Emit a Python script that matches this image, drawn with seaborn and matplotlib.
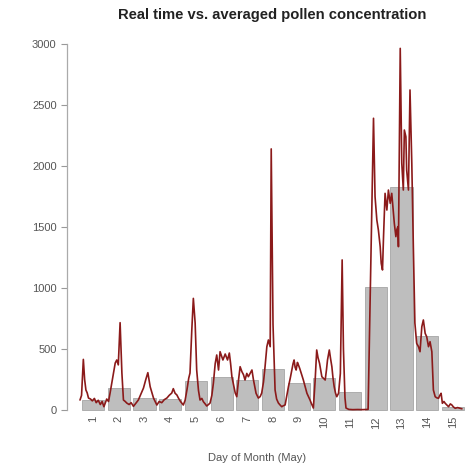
import numpy as np
import pandas as pd
import matplotlib
matplotlib.use("Agg")
import matplotlib.pyplot as plt
import seaborn as sns

# Daily averaged pollen concentration (bars)
days = list(range(1, 16))
daily_avg = [82, 180, 100, 90, 238, 272, 245, 336, 220, 265, 150, 1008, 1830, 606, 25]
day_labels = [str(d) for d in days]

# Real-time concentration (line): time in day units, value
rt_time = [0.49, 0.55, 0.62, 0.67, 0.72, 0.77, 0.82, 0.90, 0.97, 1.05, 1.12, 1.20, 1.28, 1.35,
           1.42, 1.48, 1.53, 1.60, 1.66, 1.75, 1.86, 1.92, 1.98, 2.05, 2.12, 2.18, 2.25, 2.31,
           2.40, 2.48, 2.57, 2.66, 2.76, 2.86, 2.96, 3.05, 3.13, 3.22, 3.35, 3.48, 3.57, 3.67,
           3.77, 3.87, 3.96, 4.06, 4.12, 4.19, 4.26, 4.32, 4.40, 4.51, 4.58, 4.65, 4.72, 4.77,
           4.84, 4.90, 4.97, 5.03, 5.10, 5.16, 5.23, 5.29, 5.36, 5.42, 5.49, 5.55, 5.62, 5.68,
           5.75, 5.81, 5.88, 5.94, 6.00, 6.05, 6.14, 6.23, 6.30, 6.35, 6.40, 6.47, 6.53, 6.59,
           6.66, 6.72, 6.79, 6.85, 6.91, 6.98, 7.04, 7.11, 7.18, 7.24, 7.29, 7.34, 7.43, 7.50,
           7.56, 7.63, 7.69, 7.76, 7.82, 7.89, 7.93, 8.00, 8.08, 8.14, 8.21, 8.28, 8.34, 8.40,
           8.47, 8.53, 8.60, 8.67, 8.73, 8.78, 8.82, 8.86, 8.90, 8.95, 8.99, 9.04, 9.08, 9.13,
           9.18, 9.25, 9.32, 9.38, 9.44, 9.50, 9.57, 9.60, 9.64, 9.70, 9.75, 9.81, 9.86, 9.90,
           9.96, 10.03, 10.08, 10.12, 10.19, 10.24, 10.29, 10.33, 10.38, 10.43, 10.48, 10.55,
           10.62, 10.69, 10.74, 10.80, 10.84, 10.95, 11.10, 11.30, 11.50, 11.70, 11.91, 11.97,
           12.04, 12.10, 12.17, 12.21, 12.26, 12.30, 12.36, 12.43, 12.49, 12.56, 12.62, 12.67,
           12.72, 12.78, 12.82, 12.86, 12.88, 12.91, 12.95, 13.01, 13.07, 13.11, 13.17, 13.20,
           13.27, 13.33, 13.40, 13.46, 13.52, 13.59, 13.66, 13.72, 13.79, 13.85, 13.92, 13.98,
           14.05, 14.11, 14.18, 14.24, 14.31, 14.37, 14.44, 14.49, 14.54, 14.59, 14.65, 14.70,
           14.77, 14.83, 14.90, 14.96, 15.02, 15.09, 15.18, 15.28, 15.35]
rt_value = [82, 120, 415, 250, 164, 140, 98, 90, 75, 95, 60, 80, 45, 70,
            27, 60, 90, 70, 139, 250, 385, 410, 370, 716, 303, 82, 70, 57,
            45, 60, 30, 55, 82, 130, 180, 250, 306, 191, 98, 41, 70, 60,
            85, 98, 120, 139, 175, 137, 123, 98, 70, 41, 80, 164, 260, 303,
            656, 915, 713, 328, 160, 82, 95, 68, 50, 33, 45, 57, 120, 221,
            380, 451, 328, 478, 440, 410, 459, 410, 467, 380, 273, 200, 139, 109,
            250, 355, 314, 290, 246, 300, 273, 300, 328, 246, 190, 137, 98, 110,
            139, 230, 355, 519, 574, 519, 2140, 700, 164, 90, 57, 40, 27, 35,
            41, 110, 191, 260, 328, 380, 410, 350, 328, 390, 369, 340, 314, 280,
            246, 190, 137, 110, 82, 50, 16, 120, 246, 492, 430, 383, 320, 273,
            260, 246, 330, 410, 492, 420, 355, 270, 191, 140, 109, 137,
            300, 1230, 500, 100, 16, 5, 3, 4, 3, 5, 2391, 1749,
            1557, 1475, 1339, 1202, 1148, 1421, 1776, 1639, 1803, 1694, 1776, 1650,
            1530, 1421, 1480, 1503, 1339, 2022, 2964, 2022, 1803, 2295, 2240, 1967,
            1803, 2623, 2022, 1339, 713, 546, 519, 478, 683, 738, 628, 601,
            519, 560, 478, 164, 109, 100, 96, 120, 137, 55, 70, 55,
            40, 27, 50, 41, 25, 14, 20, 14, 10]

y_ticks = [0, 500, 1000, 1500, 2000, 2500, 3000]

sns.set_style("white")
plt.rcParams['font.family'] = ['Liberation Sans', 'DejaVu Sans']

fig = plt.figure(figsize=(4.65, 4.68), dpi=100)
ax = fig.add_axes([67 / 465, 0.120, 1 - 67 / 465, 0.799])

bars_df = pd.DataFrame({"day": days, "avg": daily_avg})
line_df = pd.DataFrame({"t": rt_time, "v": rt_value})

sns.barplot(data=bars_df, x="day", y="avg", native_scale=True, width=0.86,
            color="#bebebe", saturation=1, edgecolor="#9a9a9a", linewidth=0.5, ax=ax)
sns.lineplot(data=line_df, x="t", y="v", color="#8b1a1a", linewidth=1.2, ax=ax)

ax.set_xlim(-0.016, 15.47)
ax.set_ylim(-15, 3050)

ax.set_xticks(days)
ax.set_xticklabels(day_labels, rotation=90, fontsize=8, color="#555555")
ax.set_yticks(y_ticks)
ax.set_yticklabels([str(v) for v in y_ticks], fontsize=8, color="#555555")
ax.tick_params(axis="x", length=0, pad=3)
ax.tick_params(axis="y", length=4.5, width=0.8, color="#999999", pad=3, left=True)

for s in ["top", "right", "bottom"]:
    ax.spines[s].set_visible(False)
ax.spines["left"].set_color("#aaaaaa")
ax.spines["left"].set_linewidth(0.9)
ax.spines["left"].set_bounds(0, 3000)

ax.set_xlabel("")
ax.set_ylabel("")
fig.text(257 / 465, 1 - 458 / 468, "Day of Month (May)", ha="center", va="center",
         fontsize=8, color="#555555")
fig.text(272 / 465, 1 - 15 / 468, "Real time vs. averaged pollen concentration",
         ha="center", va="center", fontsize=10.6, fontweight="bold", color="#222222")

fig.savefig("out.png", dpi=100)
